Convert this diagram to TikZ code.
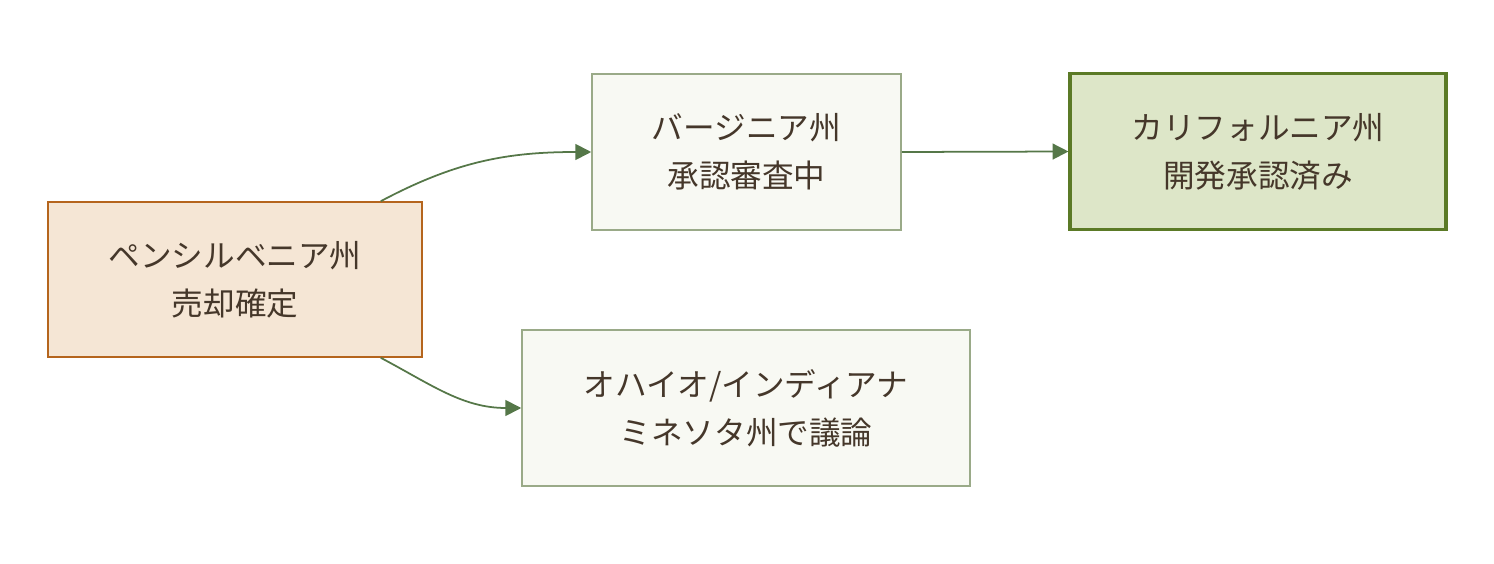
\documentclass[tikz,border=0pt]{standalone}
\usepackage{fontspec}
\setmainfont{Noto Sans CJK JP}
\usetikzlibrary{arrows.meta}
\definecolor{inkbrown}{HTML}{45372A}
\definecolor{soldfill}{HTML}{F5E6D5}
\definecolor{soldline}{HTML}{B5651D}
\definecolor{paleFill}{HTML}{F8F9F3}
\definecolor{paleLine}{HTML}{9AAA88}
\definecolor{doneFill}{HTML}{DDE6C8}
\definecolor{doneLine}{HTML}{5B7A26}
\definecolor{flowGreen}{HTML}{557748}
\begin{document}
\begin{tikzpicture}[x=0.02cm, y=-0.02cm,
  state/.style={rectangle, align=center, inner sep=0pt, text=inkbrown,
    font=\fontsize{18}{27.3}\selectfont, minimum height=3.12cm},
  sold/.style={state, fill=soldfill, draw=soldline, line width=0.9pt},
  review/.style={state, fill=paleFill, draw=paleLine, line width=0.9pt},
  done/.style={state, fill=doneFill, draw=doneLine, line width=1.8pt},
  flow/.style={draw=flowGreen, line width=1pt, -{Triangle[length=9pt, width=9pt]}}]
  \useasboundingbox (0,0) rectangle (1494,564);
  % state boxes
  \node[sold, minimum width=7.48cm, minimum height=3.1cm] (penn) at (235,279.5)
    {ペンシルベニア州\\売却確定};
  \node[review, minimum width=6.18cm] (virg) at (746.5,152) {バージニア州\\承認審査中};
  \node[done, minimum width=7.52cm] (cali) at (1258,151.5) {カリフォルニア州\\開発承認済み};
  \node[review, minimum width=8.96cm] (ohio) at (746,408) {オハイオ/インディアナ\\ミネソタ州で議論};
  % transitions
  \draw[flow] ([xshift=-0.84cm]penn.north east) to[out=28, in=180] (virg.west);
  \draw[flow] ([xshift=-0.84cm]penn.south east) to[out=-28, in=180] (ohio.west);
  \draw[flow] (virg.east) -- (cali.west);
\end{tikzpicture}
\end{document}
